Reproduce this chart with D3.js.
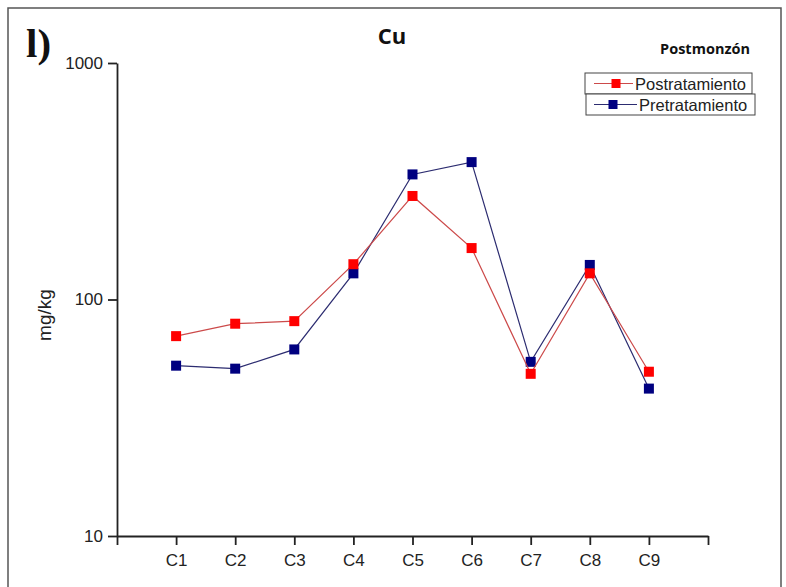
<!DOCTYPE html>
<html>
<head>
<meta charset="utf-8">
<script src="https://cdn.jsdelivr.net/npm/d3@7"></script>
<style>
  html, body { margin: 0; padding: 0; background: #fff; }
  svg { display: block; }
</style>
</head>
<body>
<div id="chart"></div>
<script>
// Cu concentrations (mg/kg) per sampling point, post-monsoon campaign
const categories = ["C1", "C2", "C3", "C4", "C5", "C6", "C7", "C8", "C9"];
const postratamiento = [70, 79, 81, 141, 274, 165, 48.5, 129, 49.5];
const pretratamiento = [52.5, 51, 61.5, 129, 338, 381, 54.5, 140, 42];
const yTicks = [10, 100, 1000];

const W = 786, H = 587;
const svg = d3.select("#chart").append("svg")
  .attr("width", W).attr("height", H);

// outer frame (open at the bottom)
svg.append("path")
  .attr("d", "M8,590 L8,8 L781,8 L781,590")
  .attr("fill", "none").attr("stroke", "#555").attr("stroke-width", 1.5);

const x = d3.scaleLinear().domain([0, 10]).range([117, 708]);
const y = d3.scaleLog().domain([10, 1000]).range([536, 63]);

const axisColor = "#222";
const tickFont = "'Liberation Sans', Arial, sans-serif";

// y axis
const gy = svg.append("g")
  .attr("transform", `translate(${x(0)},0)`)
  .call(d3.axisLeft(y).tickValues(yTicks).tickFormat(d3.format("d"))
    .tickSize(9).tickSizeOuter(0).tickPadding(5));
// x axis
const gx = svg.append("g")
  .attr("transform", `translate(0,${y(10)})`)
  .call(d3.axisBottom(x).tickValues(d3.range(0, 11))
    .tickFormat(d => (d >= 1 && d <= 9) ? categories[d - 1] : "")
    .tickSize(9).tickSizeOuter(0).tickPadding(9));

[gx, gy].forEach(g => {
  g.select(".domain").attr("stroke", axisColor).attr("stroke-width", 1.8);
  g.selectAll(".tick line").attr("stroke", axisColor).attr("stroke-width", 1.8);
  g.selectAll(".tick text").attr("fill", "#222")
    .style("font-family", tickFont).style("font-size", "17px");
});

// y axis title
svg.append("text")
  .attr("transform", "translate(51,315) rotate(-90)")
  .attr("text-anchor", "middle")
  .style("font-family", tickFont).style("font-size", "19px").attr("fill", "#222")
  .text("mg/kg");

// chart title and panel labels
svg.append("text").attr("x", 392).attr("y", 44).attr("text-anchor", "middle")
  .style("font-family", "'Open Sans', sans-serif").style("font-weight", "bold")
  .style("font-size", "22px").attr("fill", "#111").text("Cu");

svg.append("text").attr("x", 750).attr("y", 54).attr("text-anchor", "end")
  .style("font-family", "'Open Sans', sans-serif").style("font-weight", "bold")
  .style("font-size", "14.5px").attr("fill", "#111").text("Postmonzón");

svg.append("text").attr("x", 26).attr("y", 57)
  .style("font-family", "'Liberation Serif', 'Times New Roman', serif").style("font-weight", "bold")
  .style("font-size", "41px").attr("fill", "#111").text("l)");

// series
const series = [
  { name: "Pretratamiento", values: pretratamiento, line: "#2c2c70", fill: "#000080" },
  { name: "Postratamiento", values: postratamiento, line: "#cc4a4a", fill: "#ff0000" }
];

const line = d3.line().x((d, i) => x(i + 1)).y(d => y(d));
const M = 10; // marker size

series.forEach(s => {
  const g = svg.append("g");
  g.append("path").attr("d", line(s.values))
    .attr("fill", "none").attr("stroke", s.line).attr("stroke-width", 1.2);
  g.selectAll("rect").data(s.values).join("rect")
    .attr("x", (d, i) => x(i + 1) - M / 2)
    .attr("y", d => y(d) - M / 2)
    .attr("width", M).attr("height", M)
    .attr("fill", s.fill);
});

// legend
const legendRows = [
  { name: "Postratamiento", line: "#cc4a4a", fill: "#ff0000", box: [585, 73, 167, 21], mx: 616, tx: 635 },
  { name: "Pretratamiento", line: "#2c2c70", fill: "#000080", box: [586, 94, 169, 21], mx: 613, tx: 639 }
];
legendRows.forEach(r => {
  const [bx, by, bw, bh] = r.box;
  const cy = by + bh / 2;
  svg.append("rect").attr("x", bx).attr("y", by).attr("width", bw).attr("height", bh)
    .attr("fill", "#fff").attr("stroke", "#444").attr("stroke-width", 1);
  svg.append("line").attr("x1", 594).attr("x2", r.tx - 2).attr("y1", cy).attr("y2", cy)
    .attr("stroke", r.line).attr("stroke-width", 1.2);
  svg.append("rect").attr("x", r.mx - 4.5).attr("y", cy - 4.5).attr("width", 9).attr("height", 9)
    .attr("fill", r.fill);
  svg.append("text").attr("x", r.tx).attr("y", cy + 6)
    .style("font-family", tickFont).style("font-size", "16.5px").attr("fill", "#222")
    .text(r.name);
});
</script>
</body>
</html>
